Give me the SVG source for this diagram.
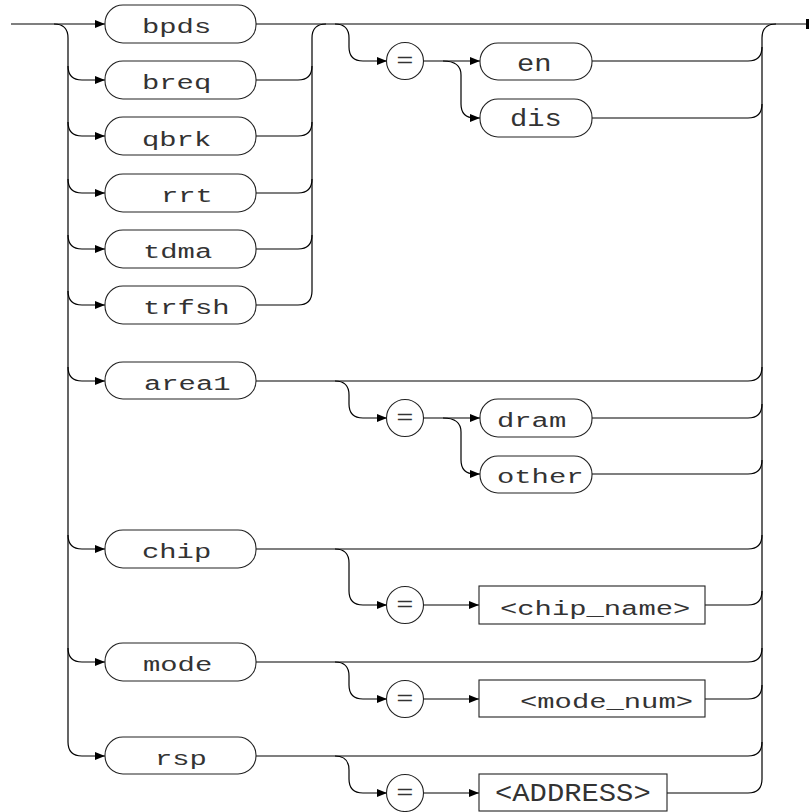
<svg xmlns="http://www.w3.org/2000/svg" width="810" height="812" viewBox="0 0 810 812">
<defs>
<marker id="ah" markerUnits="userSpaceOnUse" markerWidth="11" markerHeight="9" refX="10" refY="4" orient="auto">
<path d="M0,0 L10,4 L0,8 z" fill="#000"/>
</marker>
<style>
.c{fill:none;stroke:#000;stroke-width:1.2}
.a{fill:none;stroke:#000;stroke-width:1.2;marker-end:url(#ah)}
.t{fill:none;stroke:#222;stroke-width:1.1}
.l{font-family:"Liberation Mono","DejaVu Sans Mono",monospace;font-size:20px;fill:#333}
.lb{font-family:"Liberation Mono","DejaVu Sans Mono",monospace;font-size:23px;fill:#333}
.lc{font-family:"Liberation Mono","DejaVu Sans Mono",monospace;font-size:26px;fill:#333}
.eq{font-family:"Liberation Mono","DejaVu Sans Mono",monospace;font-size:20px;fill:#333}
</style>
</defs>
<rect width="810" height="812" fill="#fff"/>
<g id="connectors">
<path class="a" d="M11 24 H105"/>
<path class="c" d="M256 24 H808"/>
<path d="M806 19 H809 V29 H806 z" fill="#000"/>
<path class="c" d="M54 24 Q68 24 68 38 V742"/>
<path class="a" d="M68 66 Q68 80 82 80 H105"/>
<path class="a" d="M68 122 Q68 136 82 136 H105"/>
<path class="a" d="M68 179 Q68 193 82 193 H105"/>
<path class="a" d="M68 235 Q68 249 82 249 H105"/>
<path class="a" d="M68 291 Q68 305 82 305 H105"/>
<path class="a" d="M68 367 Q68 381 82 381 H105"/>
<path class="a" d="M68 535 Q68 549 82 549 H105"/>
<path class="a" d="M68 648 Q68 662 82 662 H105"/>
<path class="a" d="M68 742 Q68 756 82 756 H105"/>
<path class="c" d="M256 80 H298 Q312 80 312 66"/>
<path class="c" d="M256 136 H298 Q312 136 312 122"/>
<path class="c" d="M256 193 H298 Q312 193 312 179"/>
<path class="c" d="M256 249 H298 Q312 249 312 235"/>
<path class="c" d="M256 305 H298 Q312 305 312 291 V38 Q312 24 326 24"/>
<path class="a" d="M335 24 Q349 24 349 38 V47 Q349 61 363 61 H387"/>
<path class="a" d="M423 61 H480"/>
<path class="a" d="M443 61 Q461 61 461 75 V104 Q461 118 475 118 H480"/>
<path class="c" d="M592 61 H748 Q762 61 762 47"/>
<path class="c" d="M592 118 H748 Q762 118 762 104"/>
<path class="c" d="M762 779 V38 Q762 24 776 24"/>
<path class="c" d="M256 381 H748 Q762 381 762 367"/>
<path class="a" d="M335 381 Q349 381 349 395 V404 Q349 418 363 418 H387"/>
<path class="a" d="M423 418 H480"/>
<path class="a" d="M443 418 Q461 418 461 432 V460 Q461 474 475 474 H480"/>
<path class="c" d="M592 418 H748 Q762 418 762 404"/>
<path class="c" d="M592 474 H748 Q762 474 762 460"/>
<path class="c" d="M256 549 H748 Q762 549 762 535"/>
<path class="a" d="M335 549 Q349 549 349 563 V591 Q349 605 363 605 H387"/>
<path class="a" d="M423 605 H479"/>
<path class="c" d="M705 605 H748 Q762 605 762 591"/>
<path class="c" d="M256 662 H748 Q762 662 762 648"/>
<path class="a" d="M335 662 Q349 662 349 676 V685 Q349 699 363 699 H387"/>
<path class="a" d="M423 699 H479"/>
<path class="c" d="M705 699 H748 Q762 699 762 685"/>
<path class="c" d="M256 756 H748 Q762 756 762 742"/>
<path class="a" d="M335 756 Q349 756 349 770 V779 Q349 793 363 793 H387"/>
<path class="a" d="M423 793 H479"/>
<path class="c" d="M667 793 H748 Q762 793 762 779"/>
</g>
<g id="n-bpds"><rect class="t" x="105" y="5" width="151" height="38" rx="18"/><text class="l" x="142" y="33" textLength="69.2" lengthAdjust="spacingAndGlyphs">bpds</text></g>
<g id="n-breq"><rect class="t" x="105" y="61" width="151" height="38" rx="18"/><text class="l" x="142" y="89" textLength="69.2" lengthAdjust="spacingAndGlyphs">breq</text></g>
<g id="n-qbrk"><rect class="t" x="105" y="117" width="151" height="38" rx="18"/><text class="l" x="142" y="146" textLength="69.2" lengthAdjust="spacingAndGlyphs">qbrk</text></g>
<g id="n-rrt"><rect class="t" x="105" y="174" width="151" height="38" rx="18"/><text class="l" x="161" y="202" textLength="51.9" lengthAdjust="spacingAndGlyphs">rrt</text></g>
<g id="n-tdma"><rect class="t" x="105" y="230" width="151" height="38" rx="18"/><text class="l" x="143" y="258" textLength="69.2" lengthAdjust="spacingAndGlyphs">tdma</text></g>
<g id="n-trfsh"><rect class="t" x="105" y="286" width="151" height="38" rx="18"/><text class="l" x="143" y="314" textLength="86.5" lengthAdjust="spacingAndGlyphs">trfsh</text></g>
<g id="n-eq1"><circle class="t" cx="405" cy="61" r="18.5"/><text class="eq" x="396.3" y="67" textLength="17.3" lengthAdjust="spacingAndGlyphs">=</text></g>
<g id="n-en"><rect class="t" x="480" y="43" width="112" height="37" rx="18"/><text class="lb" x="517" y="71" textLength="34.6" lengthAdjust="spacingAndGlyphs">en</text></g>
<g id="n-dis"><rect class="t" x="480" y="99" width="112" height="38" rx="18"/><text class="lb" x="510" y="126" textLength="51.9" lengthAdjust="spacingAndGlyphs">dis</text></g>
<g id="n-area1"><rect class="t" x="105" y="362" width="151" height="37" rx="18"/><text class="l" x="144" y="390" textLength="86.5" lengthAdjust="spacingAndGlyphs">area1</text></g>
<g id="n-eq2"><circle class="t" cx="405" cy="418" r="18.5"/><text class="eq" x="396.3" y="424" textLength="17.3" lengthAdjust="spacingAndGlyphs">=</text></g>
<g id="n-dram"><rect class="t" x="480" y="399" width="112" height="38" rx="18"/><text class="l" x="497" y="427" textLength="69.2" lengthAdjust="spacingAndGlyphs">dram</text></g>
<g id="n-other"><rect class="t" x="480" y="456" width="112" height="37" rx="18"/><text class="l" x="497" y="483" textLength="86.5" lengthAdjust="spacingAndGlyphs">other</text></g>
<g id="n-chip"><rect class="t" x="105" y="530" width="151" height="38" rx="18"/><text class="l" x="142" y="558" textLength="69.2" lengthAdjust="spacingAndGlyphs">chip</text></g>
<g id="n-eq3"><circle class="t" cx="405" cy="605" r="18.5"/><text class="eq" x="396.3" y="611" textLength="17.3" lengthAdjust="spacingAndGlyphs">=</text></g>
<g id="n-chipname"><rect class="t" x="479" y="586" width="226" height="38"/><text class="l" x="500" y="615" textLength="190.3" lengthAdjust="spacingAndGlyphs">&lt;chip_name&gt;</text></g>
<g id="n-mode"><rect class="t" x="105" y="643" width="151" height="38" rx="18"/><text class="l" x="143" y="671" textLength="69.2" lengthAdjust="spacingAndGlyphs">mode</text></g>
<g id="n-eq4"><circle class="t" cx="405" cy="699" r="18.5"/><text class="eq" x="396.3" y="705" textLength="17.3" lengthAdjust="spacingAndGlyphs">=</text></g>
<g id="n-modenum"><rect class="t" x="479" y="680" width="226" height="37"/><text class="l" x="520" y="708" textLength="173" lengthAdjust="spacingAndGlyphs">&lt;mode_num&gt;</text></g>
<g id="n-rsp"><rect class="t" x="105" y="737" width="151" height="37" rx="18"/><text class="l" x="155" y="765" textLength="51.9" lengthAdjust="spacingAndGlyphs">rsp</text></g>
<g id="n-eq5"><circle class="t" cx="405" cy="793" r="18.5"/><text class="eq" x="396.3" y="799" textLength="17.3" lengthAdjust="spacingAndGlyphs">=</text></g>
<g id="n-address"><rect class="t" x="479" y="774" width="188" height="37"/><text class="lc" x="495" y="801" textLength="155.7" lengthAdjust="spacingAndGlyphs">&lt;ADDRESS&gt;</text></g>
</svg>
